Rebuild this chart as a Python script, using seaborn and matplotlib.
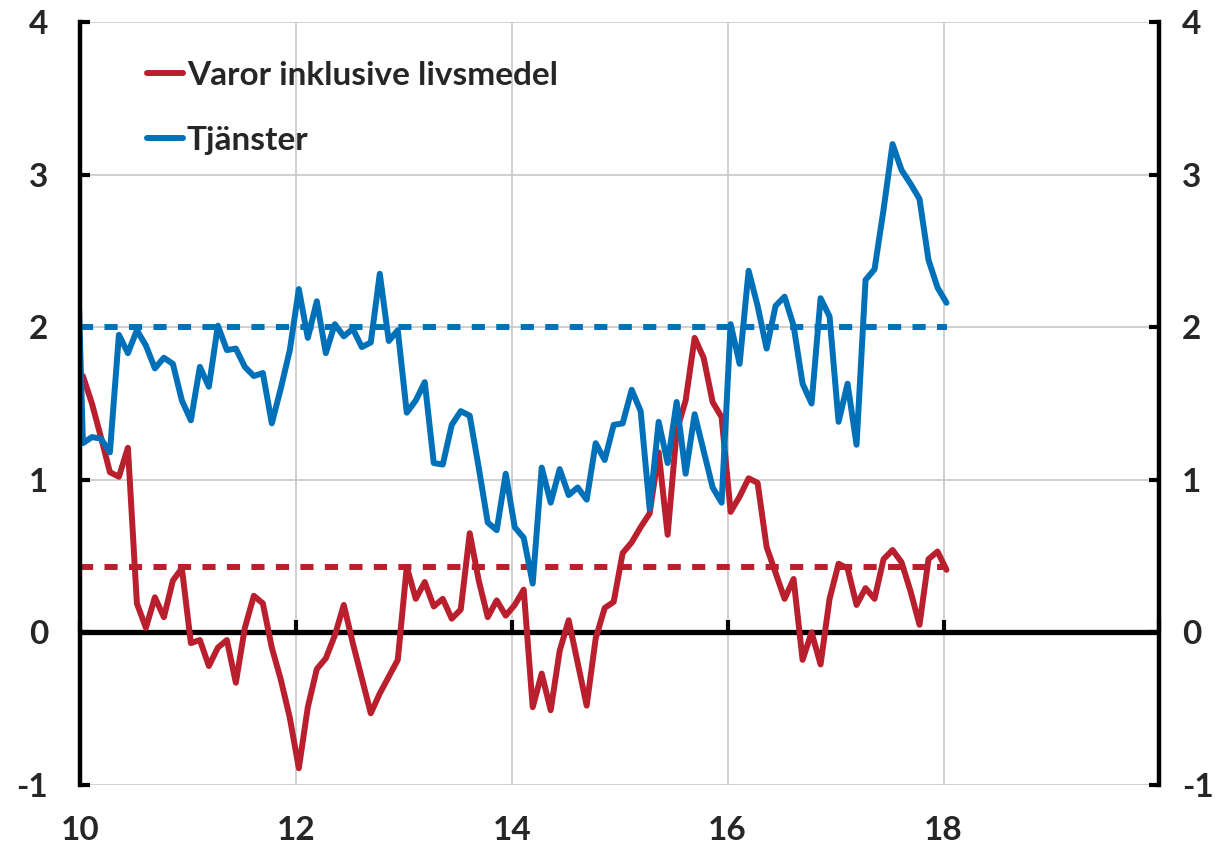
import numpy as np
import pandas as pd
import matplotlib
matplotlib.use('Agg')
import matplotlib.pyplot as plt
from matplotlib.lines import Line2D
import seaborn as sns

# Monthly values Dec 2009 - Jan 2018 (Dec 2009 only for services, it is clipped)
months = pd.date_range('2009-12-01', '2018-01-01', freq='MS')

varor = [np.nan,
         1.68, 1.50, 1.28, 1.05, 1.02, 1.21, 0.19, 0.03, 0.23, 0.10, 0.34, 0.42,
         -0.07, -0.05, -0.22, -0.10, -0.05, -0.33, 0.03, 0.24, 0.19, -0.10, -0.31, -0.56,
         -0.89, -0.49, -0.24, -0.17, -0.02, 0.18, -0.07, -0.30, -0.53, -0.40, -0.29, -0.18,
         0.43, 0.22, 0.33, 0.17, 0.22, 0.09, 0.15, 0.65, 0.34, 0.10, 0.21, 0.11,
         0.18, 0.28, -0.49, -0.27, -0.51, -0.12, 0.08, -0.20, -0.48, -0.04, 0.16, 0.20,
         0.52, 0.59, 0.69, 0.78, 1.18, 0.64, 1.32, 1.52, 1.93, 1.80, 1.51, 1.41,
         0.79, 0.89, 1.01, 0.98, 0.56, 0.39, 0.22, 0.35, -0.18, 0.00, -0.21, 0.22,
         0.45, 0.42, 0.18, 0.29, 0.22, 0.48, 0.54, 0.46, 0.27, 0.05, 0.48, 0.53,
         0.41]

tjanster = [3.30,
            1.24, 1.28, 1.27, 1.18, 1.95, 1.83, 1.98, 1.88, 1.73, 1.80, 1.76, 1.52,
            1.39, 1.74, 1.61, 2.01, 1.85, 1.86, 1.74, 1.68, 1.70, 1.37, 1.60, 1.85,
            2.25, 1.93, 2.17, 1.83, 2.02, 1.94, 1.99, 1.87, 1.90, 2.35, 1.91, 1.98,
            1.44, 1.52, 1.64, 1.11, 1.10, 1.36, 1.45, 1.42, 1.08, 0.72, 0.67, 1.04,
            0.69, 0.62, 0.32, 1.08, 0.85, 1.07, 0.90, 0.95, 0.87, 1.24, 1.13, 1.36,
            1.37, 1.59, 1.45, 0.81, 1.38, 1.11, 1.51, 1.04, 1.43, 1.19, 0.95, 0.85,
            2.02, 1.76, 2.37, 2.14, 1.86, 2.14, 2.20, 2.01, 1.63, 1.50, 2.19, 2.07,
            1.38, 1.63, 1.23, 2.31, 2.38, 2.77, 3.20, 3.03, 2.94, 2.84, 2.44, 2.26,
            2.16]

# long-run averages (dashed)
snitt_varor = 0.43
snitt_tjanster = 2.0

labels = ['Varor inklusive livsmedel', 'Tjänster']
colors = ['#BA1F2E', '#0071B9']
xtick_vals = [10, 12, 14, 16, 18, 20]
xtick_labels = ['10', '12', '14', '16', '18', '']
ytick_vals = [-1, 0, 1, 2, 3, 4]

# x position in years since 2000, Jan 2010 sits a bit right of the 10 tick
xpos = (months.year - 2000) + (months.month - 1 + 0.33) / 12

df = pd.DataFrame({'x': np.tile(xpos, 2),
                   'value': varor + tjanster,
                   'serie': np.repeat(labels, len(months))})

sns.set_style('white')
plt.rcParams['font.family'] = ['Lato', 'DejaVu Sans']
plt.rcParams['font.weight'] = 'bold'
plt.rcParams['lines.solid_capstyle'] = 'round'
plt.rcParams['lines.solid_joinstyle'] = 'round'
plt.rcParams['lines.dash_capstyle'] = 'round'

FS = 24

fig = plt.figure(figsize=(12.17, 8.47), dpi=100)
ax = fig.add_axes([0.0657, 0.0732, 0.887, 0.9008])

ax.axhline(0, color='black', lw=3.8, zorder=1.5)

sns.lineplot(data=df, x='x', y='value', hue='serie', palette=colors,
             linewidth=4.3, ax=ax, zorder=3, legend=False)

# dashed averages across the data span
x0 = 10
x1 = xpos.max()
ax.hlines(snitt_varor, x0, x1, colors=colors[0], linestyles=(0, (2.2, 1.9)), lw=4.3, zorder=2.5)
ax.hlines(snitt_tjanster, x0, x1, colors=colors[1], linestyles=(0, (2.2, 1.9)), lw=4.3, zorder=2.5)

ax.set_xlim(10, 20)
ax.set_ylim(-1, 4)
ax.set_xticks(xtick_vals)
ax.set_xticklabels(xtick_labels)
ax.set_yticks(ytick_vals)
ax.set_yticklabels([str(v) for v in ytick_vals])
ax.set_xlabel('')
ax.set_ylabel('')

ax.grid(True, color='#C8C8C8', lw=1.2)
ax.set_axisbelow(True)

for s in ['top', 'bottom']:
    ax.spines[s].set_visible(False)
for s in ['left', 'right']:
    ax.spines[s].set_color('black')
    ax.spines[s].set_linewidth(3.2)
    ax.spines[s].set_zorder(4)

ax.tick_params(axis='x', length=0, pad=22, labelsize=FS)
ax.tick_params(axis='y', direction='in', length=7, width=3, color='black',
               left=True, right=True, labelleft=True, labelright=False,
               pad=23, labelsize=FS)

# right side labels
secy = ax.secondary_yaxis('right')
secy.set_yticks(ytick_vals)
secy.set_yticklabels([str(v) for v in ytick_vals])
secy.tick_params(length=0, pad=16, labelsize=FS)
secy.spines['right'].set_visible(False)

# upward ticks on the zero line
secx = ax.secondary_xaxis(0.2)
secx.set_xticks(xtick_vals)
secx.tick_params(direction='in', length=9, width=3, color='black', labelbottom=False)
secx.spines['bottom'].set_visible(False)
secx.set_zorder(5)

handles = [Line2D([0], [0], color=c, lw=4.3) for c in colors]
ax.legend(handles, labels, loc='upper left', bbox_to_anchor=(0.062, 0.949),
          frameon=False, fontsize=FS, handlelength=1.08, handletextpad=0.12,
          labelspacing=1.08, borderpad=0, borderaxespad=0)

fig.savefig('out.png', dpi=100)
